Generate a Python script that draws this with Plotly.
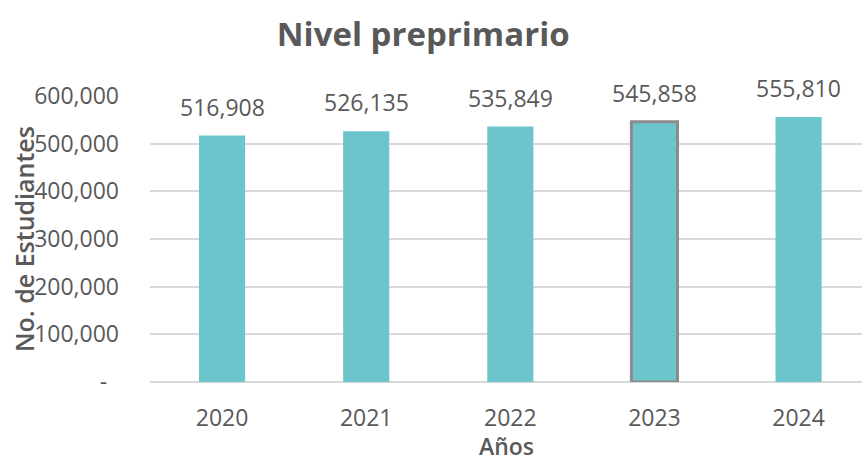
import plotly.graph_objects as go

years = ["2020", "2021", "2022", "2023", "2024"]
students = [516908, 526135, 535849, 545858, 555810]
tick_vals = [0, 100000, 200000, 300000, 400000, 500000, 600000]
tick_text = ["-\u00a0\u00a0", "100,000", "200,000", "300,000", "400,000", "500,000", "600,000"]

line_colors = ["rgba(0,0,0,0)"] * 5
line_colors[3] = "#8c8c8c"

FONT = "Open Sans"
GRAY = "#595959"

fig = go.Figure()
fig.add_trace(go.Bar(
    x=list(range(len(years))), y=students,
    marker=dict(color="#6cc5cc", line=dict(color=line_colors, width=3)),
    hoverinfo="y",
))

for i, v in enumerate(students):
    fig.add_annotation(x=i, y=v, text=f"{v:,}", showarrow=False,
                       yanchor="bottom", yshift=11,
                       font=dict(family=FONT, size=23, color=GRAY))

fig.add_annotation(text="No. de Estudiantes", xref="paper", yref="paper",
                   x=0, xanchor="center", xshift=-126, y=0.5, textangle=-90,
                   showarrow=False,
                   font=dict(family=FONT, size=25, color=GRAY, weight=600))
fig.add_annotation(text="Años", xref="paper", yref="paper",
                   x=0.5, y=0, yshift=-82, yanchor="bottom", showarrow=False,
                   font=dict(family=FONT, size=23, color=GRAY, weight=600))

fig.update_layout(
    width=862, height=465,
    margin=dict(l=150, r=0, t=96, b=83),
    paper_bgcolor="white", plot_bgcolor="white",
    bargap=0.68,
    showlegend=False,
    title=dict(text="<b>Nivel preprimario</b>", x=0.491, xanchor="center",
               y=1 - 34 / 465, yanchor="middle", xref="container", yref="container",
               font=dict(family=FONT, size=33, color=GRAY)),
    font=dict(family=FONT, color=GRAY),
)
fig.update_xaxes(range=[-0.5, 4.44], showgrid=False, showline=False,
                 tickvals=list(range(len(years))), ticktext=years,
                 tickfont=dict(family=FONT, size=23, color=GRAY),
                 ticks="", ticklabelstandoff=20)
fig.update_yaxes(range=[0, 600000], tickvals=tick_vals, ticktext=tick_text,
                 showgrid=True, gridcolor="#d9d9d9", gridwidth=2,
                 zeroline=True, zerolinecolor="#d9d9d9", zerolinewidth=2,
                 showline=False, ticks="",
                 tickfont=dict(family=FONT, size=23, color=GRAY),
                 ticklabelstandoff=30)

fig.write_html("out.html", config={"displayModeBar": False},
               post_script="document.body.style.margin='0';")
